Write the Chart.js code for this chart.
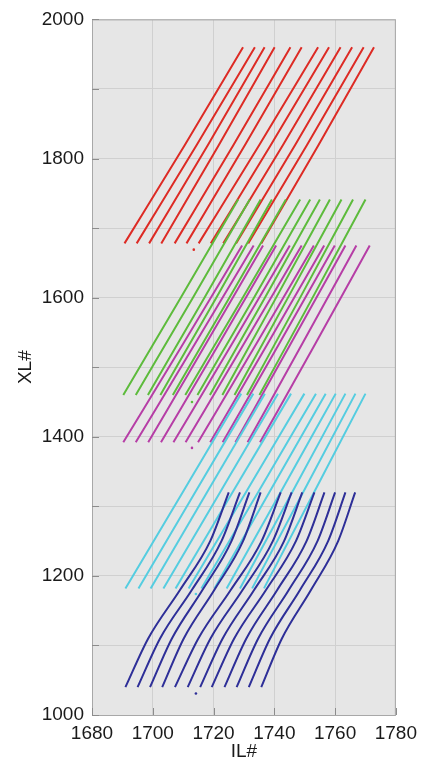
<!DOCTYPE html>
<html><head><meta charset="utf-8">
<script src="https://cdn.jsdelivr.net/npm/chart.js@4/dist/chart.umd.min.js"></script>
<style>html,body{margin:0;padding:0;background:#fff;}#wrap{width:424px;height:763px;}</style>
</head><body><div id="wrap"><canvas id="c" width="424" height="763"></canvas></div>
<script>
const xTicks = [1680, 1700, 1720, 1740, 1760, 1780];
const yTicks = [1000, 1200, 1400, 1600, 1800, 2000];

const redXL = [1678, 1819, 1960];
const redIL = [
  [1690.7,1710.5,1729.7],[1694.7,1714.4,1733.6],[1698.8,1718.1,1736.8],[1702.8,1721.7,1740.1],
  [1707.2,1726.5,1745.3],[1711.1,1730.3,1749.0],[1715.1,1735.0,1754.4],[1719.1,1738.8,1758.0],
  [1723.2,1742.8,1761.8],[1727.4,1746.8,1765.6],[1731.4,1750.7,1769.4],[1735.7,1754.5,1772.8]
];
const greenXL = [1460, 1600, 1741];
const greenIL = [
  [1690.3,1709.2,1728.1],[1694.4,1713.2,1731.9],[1698.4,1717.0,1735.5],[1702.5,1720.9,1739.2],
  [1706.6,1725.2,1743.8],[1710.7,1729.6,1748.5],[1714.7,1733.3,1751.8],[1718.8,1736.9,1755.0],
  [1722.9,1740.6,1758.3],[1726.9,1744.5,1762.1],[1731.0,1748.5,1765.9],[1735.1,1752.6,1770.0]
];
const magentaXL = [1392, 1533, 1675];
const magentaIL = [
  [1690.3,1709.9,1729.4],[1694.4,1713.8,1733.2],[1698.5,1717.4,1736.3],[1702.7,1721.7,1740.6],
  [1706.8,1726.0,1745.1],[1710.8,1729.9,1749.0],[1714.9,1734.0,1753.0],[1718.9,1737.7,1756.4],
  [1723.0,1741.5,1759.9],[1727.2,1745.3,1763.4],[1731.2,1749.1,1767.0],[1735.3,1753.4,1771.4]
];
const cyanXL = [1182, 1322, 1462];
const cyanIL = [
  [1691.0,1710.1,1729.1],[1695.3,1714.2,1733.1],[1699.3,1718.1,1736.9],[1703.5,1722.4,1741.2],
  [1707.5,1726.5,1745.5],[1711.8,1730.9,1749.9],[1716.0,1734.9,1753.7],[1720.3,1738.6,1756.9],
  [1724.3,1742.3,1760.2],[1728.7,1746.1,1763.4],[1732.7,1749.7,1766.7],[1736.6,1753.3,1770.0]
];
const blueXL = [1040, 1110, 1180, 1250, 1320];
const blueIL = [
  [1691.0,1698.5,1709.0,1718.9,1725.0],[1695.0,1702.4,1712.9,1722.6,1728.7],
  [1699.1,1706.3,1716.4,1725.9,1731.8],[1703.1,1710.2,1720.3,1729.7,1735.5],
  [1707.3,1715.0,1725.7,1735.8,1742.1],[1711.5,1719.0,1729.6,1739.5,1745.7],
  [1715.6,1723.0,1733.4,1743.2,1749.2],[1719.4,1726.8,1737.3,1747.1,1753.2],
  [1723.6,1730.8,1741.0,1750.6,1756.5],[1727.6,1734.7,1744.8,1754.2,1760.0],
  [1731.6,1738.6,1748.5,1757.7,1763.4],[1735.7,1742.5,1752.1,1761.0,1766.6]
];
const strayIL = [1713.5, 1712.9, 1712.9, 1714.2, 1714.2];
const strayXL = [1669, 1450, 1384, 1174, 1031];

const groups = [
  {xl: blueXL, il: blueIL, color: '#2e2f98', tension: 0.4},
  {xl: cyanXL, il: cyanIL, color: '#55cde0', tension: 0.3},
  {xl: magentaXL, il: magentaIL, color: '#b63ea6', tension: 0.3},
  {xl: greenXL, il: greenIL, color: '#5dbb3c', tension: 0.3},
  {xl: redXL, il: redIL, color: '#dd2b25', tension: 0.3}
];
const strayColors = ['#dd2b25', '#5dbb3c', '#b63ea6', '#55cde0', '#2e2f98'];

const datasets = [];
groups.forEach(g => {
  g.il.forEach(curve => {
    datasets.push({
      data: g.xl.map((y, k) => ({x: curve[k], y: y})),
      showLine: true, borderColor: g.color, borderWidth: 2,
      pointRadius: 0, tension: g.tension, cubicInterpolationMode: 'monotone', fill: false
    });
  });
});
strayIL.forEach((x, i) => {
  datasets.push({data: [{x: x, y: strayXL[i]}], showLine: false, pointRadius: 1.3,
    pointBorderWidth: 0, backgroundColor: strayColors[i], borderColor: strayColors[i]});
});

const frame = {
  id: 'frame',
  beforeDraw(chart) {
    const {ctx, chartArea: a} = chart;
    ctx.save();
    ctx.fillStyle = '#e6e6e6';
    ctx.fillRect(a.left, a.top, a.right - a.left, a.bottom - a.top);
    ctx.restore();
  },
  afterDraw(chart) {
    const {ctx, chartArea: a, scales} = chart;
    ctx.save();
    ctx.strokeStyle = '#a8a8a8';
    ctx.lineWidth = 1;
    ctx.strokeRect(a.left + 0.5, a.top + 0.5, a.right - a.left - 1, a.bottom - a.top);
    ctx.strokeStyle = '#8c8c8c';
    ctx.beginPath();
    for (let v = 1000; v <= 2000; v += 100) {
      const y = Math.round(scales.y.getPixelForValue(v)) + 0.5;
      ctx.moveTo(a.left, y); ctx.lineTo(a.left + 7, y);
    }
    xTicks.forEach(v => {
      const x = Math.round(scales.x.getPixelForValue(v)) + 0.5;
      ctx.moveTo(x, a.bottom); ctx.lineTo(x, a.bottom - 7);
    });
    ctx.stroke();
    ctx.restore();
  }
};

const font = {family: "'Liberation Sans', Arial, Helvetica, sans-serif", size: 19};

new Chart(document.getElementById('c'), {
  type: 'scatter',
  data: {datasets},
  options: {
    responsive: false, animation: false, devicePixelRatio: 1,
    layout: {padding: {top: 15, right: 25, left: 0, bottom: 0}},
    plugins: {legend: {display: false}, tooltip: {enabled: false}},
    scales: {
      x: {
        type: 'linear', min: 1680, max: 1780,
        afterBuildTicks: s => { s.ticks = xTicks.map(v => ({value: v})); },
        afterFit: s => { s.height = 48; },
        grid: {color: '#d0d0d0', drawTicks: false},
        border: {display: false},
        ticks: {color: '#1a1a1a', font, padding: 7, callback: v => String(v)},
        title: {display: true, text: 'IL#', color: '#1a1a1a', font, padding: {top: 0, bottom: 0}}
      },
      y: {
        type: 'linear', min: 1000, max: 2000,
        afterBuildTicks: s => { const t = []; for (let v = 1000; v <= 2000; v += 100) t.push({value: v}); s.ticks = t; },
        afterFit: s => { s.width = 92; },
        grid: {color: '#d0d0d0', drawTicks: false},
        border: {display: false},
        ticks: {color: '#1a1a1a', font, padding: 8,
          callback: v => (yTicks.includes(v) ? String(v) : '')},
        title: {display: true, text: 'XL#', color: '#1a1a1a', font, padding: {top: 14, bottom: 0}}
      }
    }
  },
  plugins: [frame]
});
</script></body></html>
